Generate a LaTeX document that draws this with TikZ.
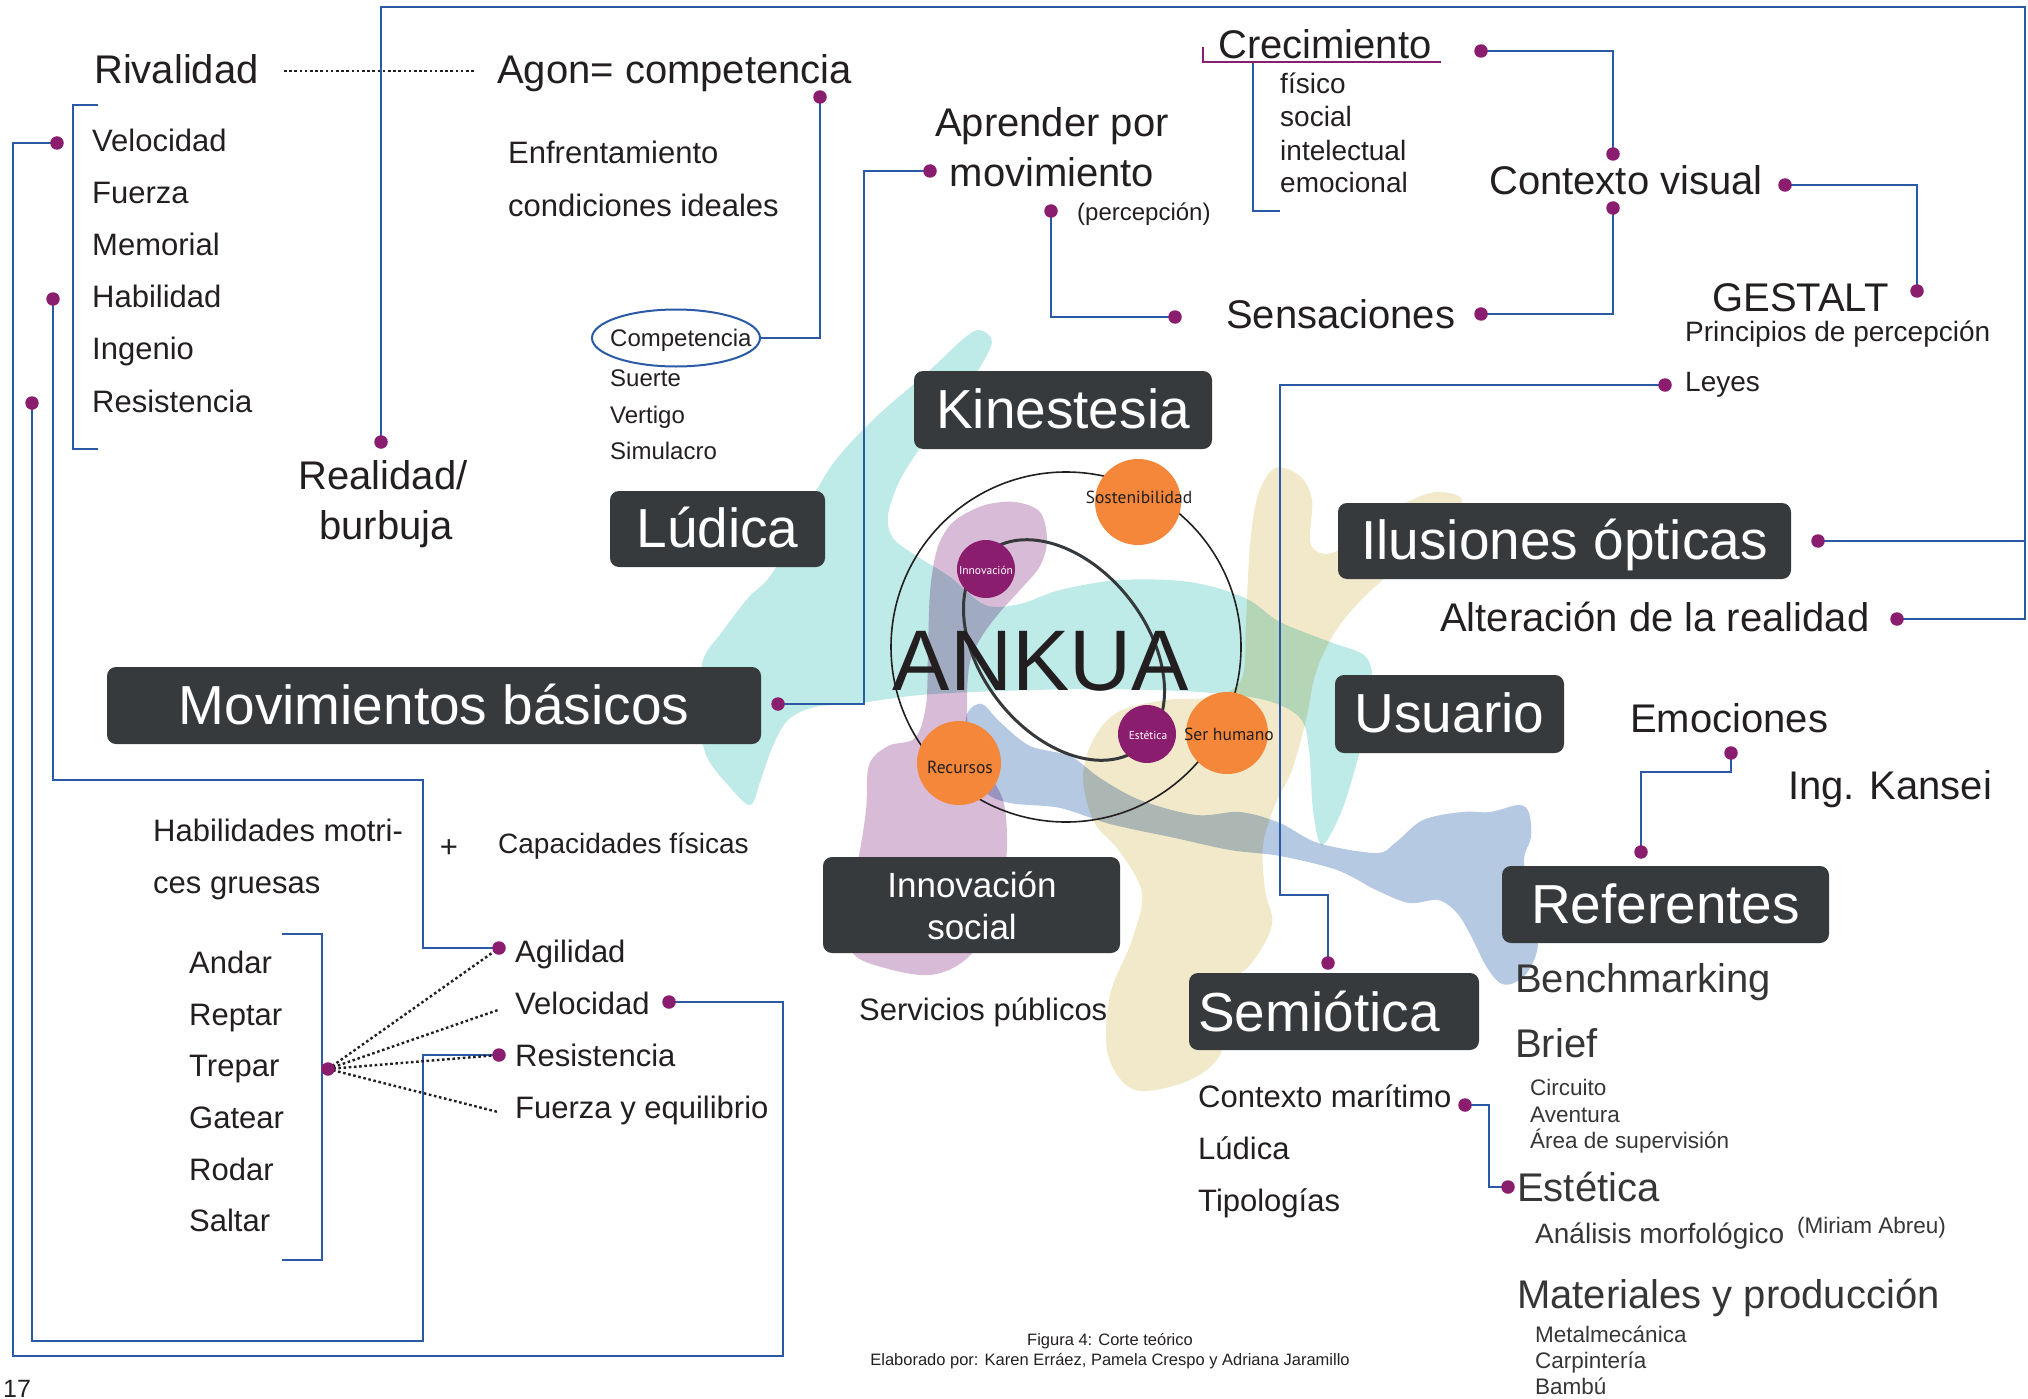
\documentclass[tikz,border=0pt]{standalone}
\usepackage{fontspec}
\setmainfont{Liberation Sans}
\newfontfamily\circfont{PT Sans}
\usetikzlibrary{shapes.geometric}

\definecolor{ink}{HTML}{231F20}
\definecolor{inksoft}{HTML}{363636}
\definecolor{boxgray}{HTML}{373A3D}
\definecolor{lineblue}{HTML}{2A59A6}
\definecolor{dotpurple}{HTML}{8B1D6F}
\definecolor{orangec}{HTML}{F4873A}
\definecolor{tealc}{HTML}{BEEAE7}
\definecolor{lilacc}{HTML}{D8BBD6}
\definecolor{bluec}{HTML}{B6C9E3}
\definecolor{beigec}{HTML}{F2E9CA}
\definecolor{ringc}{HTML}{231F20}
\definecolor{ovalc}{HTML}{36393B}

\newcommand{\txtsize}[1]{\fontsize{#1}{#1}\selectfont}

\tikzset{
  lbl/.style={anchor=base west, inner sep=0pt, text=ink},
  lblc/.style={anchor=base, inner sep=0pt, text=ink},
  big/.style={font=\txtsize{40}},
  mid/.style={font=\txtsize{31}},
  sml/.style={font=\txtsize{28}},
  tiny/.style={font=\txtsize{22.5}},
  boxn/.style={fill=boxgray, rounded corners=9pt, text=white, inner sep=0pt,
               text height=37pt, text depth=0pt, font=\txtsize{55}},
  bline/.style={draw=lineblue, line width=2pt},
  dotline/.style={draw=ink, line width=2.4pt, dash pattern=on 2.6pt off 2.6pt},
  dotn/.style={circle, fill=dotpurple, inner sep=0pt, minimum size=13.5pt},
  orb/.style={circle, fill=orangec, inner sep=0pt},
  pearl/.style={circle, fill=dotpurple, inner sep=0pt},
}

\begin{document}
\begin{tikzpicture}[x=1pt, y=-1pt]
\useasboundingbox (0,0) rectangle (2028,1399);

% ---------- translucent background blobs ----------
\begin{scope}[blend mode=multiply]
\fill[tealc] plot[smooth cycle, tension=0.55] coordinates {
 (979,330) (992,342) (975,375) (950,405) (922,445) (900,480) (888,515)
 (893,538) (915,555) (950,577) (985,605) (1020,604) (1060,590) (1120,580)
 (1190,582) (1245,598) (1280,622) (1330,642) (1366,657) (1372,690)
 (1360,750) (1342,810) (1322,845) (1313,810) (1309,750) (1300,718)
 (1265,700) (1200,692) (1100,689) (1000,691) (920,695) (860,703)
 (815,707) (788,720) (772,748) (760,782) (750,805) (728,785) (706,755)
 (698,710) (703,660) (722,632) (748,598) (771,575) (800,522) (832,465)
 (875,418) (930,370) (962,340)};
\fill[lilacc] plot[smooth cycle, tension=0.55] coordinates {
 (945,532) (958,518) (985,505) (1015,502) (1040,512) (1047,540)
 (1040,566) (1020,590) (1000,612) (982,636) (970,662) (967,700)
 (970,740) (988,772) (1003,800) (1007,835) (1005,870) (995,920)
 (965,960) (930,975) (885,968) (852,952) (845,905) (858,860)
 (866,810) (869,765) (888,746) (915,738) (926,705) (928,650)
 (930,592) (936,553)};
\fill[bluec] plot[smooth cycle, tension=0.55] coordinates {
 (968,712) (982,704) (1000,722) (1030,746) (1070,756) (1100,778)
 (1140,800) (1196,815) (1240,812) (1280,823) (1318,843) (1376,853)
 (1395,843) (1423,820) (1462,812) (1490,812) (1519,805) (1529,813)
 (1531,837) (1524,860) (1530,900) (1538,943) (1529,970) (1514,983)
 (1500,983) (1486,966) (1471,936) (1457,913) (1438,900) (1409,903)
 (1376,890) (1337,870) (1280,856) (1230,850) (1175,838) (1110,824)
 (1060,808) (1010,803) (985,792) (970,765) (965,735)};
\fill[beigec] plot[smooth cycle, tension=0.55] coordinates {
 (1275,468) (1300,476) (1312,500) (1311,545) (1335,552) (1380,517)
 (1430,493) (1460,497) (1455,513) (1415,552) (1365,596) (1335,632)
 (1316,672) (1306,720) (1292,770) (1275,805) (1263,845) (1265,890)
 (1272,925) (1250,965) (1215,995) (1222,1050) (1190,1080) (1135,1090)
 (1108,1055) (1110,995) (1132,940) (1142,893) (1120,852) (1094,822)
 (1083,778) (1093,740) (1118,712) (1165,700) (1215,697) (1242,678)
 (1246,620) (1250,545) (1258,495)};
\end{scope}

% ---------- central emblem ----------
\draw[ringc, line width=1.6pt] (1066,647) circle (175pt);
\draw[ovalc, line width=3pt, rotate around={-52:(1064,650)}]
  (1064,650) ellipse [x radius=124, y radius=83];
\node[anchor=base, inner sep=0pt, text=ink, font=\txtsize{86}] (ankua) at (1041,690) {ANKUA};

\node[orb, minimum size=86pt] (oSost) at (1138,502) {};
\node[orb, minimum size=82pt] (oSer) at (1227,733) {};
\node[orb, minimum size=84pt] (oRec) at (959,763) {};
\node[pearl, minimum size=58pt] (pInn) at (986,569) {};
\node[pearl, minimum size=58pt] (pEst) at (1147,734) {};
\node[anchor=base, inner sep=0pt, text=ink, font=\circfont\txtsize{17.5}] (tSost) at (1139,503) {Sostenibilidad};
\node[anchor=base, inner sep=0pt, text=ink, font=\circfont\txtsize{17.5}] (tSer) at (1229,740) {Ser humano};
\node[anchor=base, inner sep=0pt, text=ink, font=\circfont\txtsize{17.5}] (tRec) at (960,773) {Recursos};
\node[anchor=base, inner sep=0pt, text=white, font=\circfont\txtsize{11.5}] (tInn) at (986,574) {Innovación};
\node[anchor=base, inner sep=0pt, text=white, font=\circfont\txtsize{11.5}] (tEst) at (1148,739) {Estética};

% ---------- dark title boxes ----------
\node[boxn, minimum width=298pt, minimum height=78pt] (kin) at (1063,410) {Kinestesia};
\node[boxn, minimum width=215pt, minimum height=76pt] (lud) at (717.5,529) {Lúdica};
\node[boxn, minimum width=654pt, minimum height=77pt] (mov) at (434,705.5) {Movimientos básicos};
\node[boxn, minimum width=453pt, minimum height=76pt] (ilu) at (1564.5,541) {Ilusiones ópticas};
\node[boxn, minimum width=229pt, minimum height=78pt] (usu) at (1449.5,714) {Usuario};
\node[boxn, minimum width=327pt, minimum height=77pt] (ref) at (1665.5,904.5) {Referentes};
\node[boxn, minimum width=290pt, minimum height=77pt] (sem) at (1334,1011.5) {};
\node[anchor=base west, inner sep=0pt, text=white, font=\txtsize{55}] (semt) at (1198,1031) {Semiótica};
\node[fill=boxgray, rounded corners=9pt, inner sep=0pt, minimum width=297pt, minimum height=96pt] (inn) at (971.5,905) {};
\node[anchor=base, inner sep=0pt, text=white, font=\txtsize{35}] (innA) at (972,897) {Innovación};
\node[anchor=base, inner sep=0pt, text=white, font=\txtsize{35}] (innB) at (972,939) {social};

% ---------- connector end points ----------
\coordinate (dReal) at (381,442);
\coordinate (dAlter) at (1897,619);
\coordinate (dIlus) at (1818,541);
\coordinate (dAgon) at (820,97);
\coordinate (dMov) at (778,704);
\coordinate (dApr) at (930,171);
\coordinate (dPerc) at (1051,211);
\coordinate (dSensL) at (1175,317);
\coordinate (dCrec) at (1481,51);
\coordinate (dCtxT) at (1613,154);
\coordinate (dCtxB) at (1613,208);
\coordinate (dSensR) at (1481,314);
\coordinate (dCtxR) at (1785,185);
\coordinate (dGest) at (1917,291);
\coordinate (dLeyes) at (1665,385);
\coordinate (dSemi) at (1328,963);
\coordinate (dEmo) at (1731,753);
\coordinate (dRef) at (1641,852);
\coordinate (dMar) at (1465,1105);
\coordinate (dEst) at (1508,1187);
\coordinate (dVelL) at (57,143);
\coordinate (dHab) at (53,299);
\coordinate (dResL) at (32,403);
\coordinate (dVelR) at (669,1002);
\coordinate (dAgi) at (499,948);
\coordinate (dResR) at (499,1055);
\coordinate (dTre) at (328,1069);

% corner points
\coordinate (kTR) at (2025,7);
\coordinate (kMov) at (864,704);
\coordinate (kLeyes) at (1280,895);
\coordinate (kEmo) at (1731,772);
\coordinate (kMar) at (1489,1187);
\coordinate (kV1) at (13,1356);
\coordinate (kV2) at (783,1002);
\coordinate (kH1) at (423,780);
\coordinate (kR1) at (423,1341);
\coordinate (kF1) at (498,1010);
\coordinate (kF2) at (498,1112);
\coordinate (kRivR) at (284,71);
\coordinate (kAgonL) at (476,71);

% Competencia oval
\node[ellipse, draw=lineblue, line width=2pt, inner sep=0pt, minimum width=168pt, minimum height=57pt] (comp) at (676,338) {};

% ---------- blue connectors ----------
\draw[bline] (dReal) |- (kTR) |- (dAlter);
\draw[bline] (dIlus) -- (dIlus -| kTR);
\draw[bline] (dAgon) |- (comp.east);
\draw[bline] (dMov) -- (kMov) |- (dApr);
\draw[bline] (dPerc) |- (dSensL);
\draw[bline] (dCrec) -| (dCtxT);
\draw[bline] (dCtxB) |- (dSensR);
\draw[bline] (dCtxR) -| (dGest);
\draw[bline] (dLeyes) -| (kLeyes) -| (dSemi);
\draw[bline] (dEmo) -- (kEmo) -| (dRef);
\draw[bline] (dMar) -| (kMar) -- (dEst);
\draw[bline] (dVelL) -| (kV1) -| (kV2) -- (dVelR);
\draw[bline] (dHab) |- (kH1) |- (dAgi);
\draw[bline] (dResL) |- (kR1) |- (dResR);

% dotted links
\draw[dotline] (kRivR) -- (kAgonL);
\draw[dotline] (dTre) -- (dAgi);
\draw[dotline] (dTre) -- (kF1);
\draw[dotline] (dTre) -- (dResR);
\draw[dotline] (dTre) -- (kF2);

% brackets
\draw[bline] (98,105) -- (73,105) -- (73,449) -- (98,449);
\draw[bline] (282,934) -- (322,934) -- (322,1260) -- (282,1260);
\draw[bline] (1253,62) -- (1253,211) -- (1280,211);
\draw[draw=dotpurple, line width=1.6pt] (1203,47) -- (1203,62) -- (1441,62);

% dots
\foreach \d in {dReal,dAlter,dIlus,dAgon,dMov,dApr,dPerc,dSensL,dCrec,dCtxT,
                dCtxB,dSensR,dCtxR,dGest,dLeyes,dSemi,dEmo,dRef,dMar,dEst,
                dVelL,dHab,dResL,dVelR,dAgi,dResR,dTre}
  \node[dotn] (n\d) at (\d) {};

% ---------- texts: left column ----------
\node[lbl, big] (tRiv) at (94,84) {Rivalidad};
\node[lbl, big] (tAgon) at (497,84) {Agon= competencia};
\node[lbl, mid] (l1) at (92,152) {Velocidad};
\node[lbl, mid] (l2) at (92,204) {Fuerza};
\node[lbl, mid] (l3) at (92,255) {Memorial};
\node[lbl, mid] (l4) at (92,307) {Habilidad};
\node[lbl, mid] (l5) at (92,359) {Ingenio};
\node[lbl, mid] (l6) at (92,412) {Resistencia};
\node[lbl, mid] (tEnf) at (508,164) {Enfrentamiento};
\node[lbl, mid] (tCond) at (508,216) {condiciones ideales};
\node[lbl, font=\txtsize{24}] (tComp) at (610,346) {Competencia};
\node[lbl, font=\txtsize{24}] (tSue) at (610,386) {Suerte};
\node[lbl, font=\txtsize{24}] (tVer) at (610,423) {Vertigo};
\node[lbl, font=\txtsize{24}] (tSim) at (610,459) {Simulacro};
\node[lblc, big] (tReal) at (383,489) {Realidad/};
\node[lblc, big] (tBur) at (386,539) {burbuja};

\node[lbl, mid] (tHab1) at (153,841) {Habilidades motri-};
\node[lbl, mid] (tHab2) at (153,893) {ces gruesas};
\node[lblc, mid] (tPlus) at (449,857) {+};
\node[lbl, sml] (tCap) at (498,853) {Capacidades físicas};
\node[lbl, mid] (a1) at (189,973) {Andar};
\node[lbl, mid] (a2) at (189,1025) {Reptar};
\node[lbl, mid] (a3) at (189,1076) {Trepar};
\node[lbl, mid] (a4) at (189,1128) {Gatear};
\node[lbl, mid] (a5) at (189,1180) {Rodar};
\node[lbl, mid] (a6) at (189,1231) {Saltar};
\node[lbl, mid] (c1) at (515,962) {Agilidad};
\node[lbl, mid] (c2) at (515,1014) {Velocidad};
\node[lbl, mid] (c3) at (515,1066) {Resistencia};
\node[lbl, mid] (c4) at (515,1118) {Fuerza y equilibrio};
\node[lbl, font=\txtsize{25}] (tPage) at (3,1397) {17};

% ---------- texts: centre and top ----------
\node[lblc, big] (tApr1) at (1052,137) {Aprender por};
\node[lblc, big] (tApr2) at (1052,187) {movimiento};
\node[lbl, font=\txtsize{24}] (tPerc) at (1077,220) {(percepción)};
\node[lbl, big] (tCrec) at (1218,59) {Crecimiento};
\node[lbl, sml] (g1) at (1280,94) {físico};
\node[lbl, sml] (g2) at (1280,127) {social};
\node[lbl, sml] (g3) at (1280,161) {intelectual};
\node[lbl, sml] (g4) at (1280,193) {emocional};
\node[lbl, big] (tCtx) at (1489,195) {Contexto visual};
\node[lbl, big] (tSens) at (1226,328) {Sensaciones};
\node[lbl, big] (tGest) at (1712,311) {GESTALT};
\node[lbl, sml] (tPrin) at (1685,341) {Principios de percepción};
\node[lbl, sml] (tLey) at (1685,391) {Leyes};
\node[lbl, big] (tAlt) at (1440,631) {Alteración de la realidad};
\node[lbl, mid] (tServ) at (859,1020) {Servicios públicos};

% ---------- texts: right side ----------
\node[lbl, big] (tEmo) at (1630,732) {Emociones};
\node[lbl, big] (tKan) at (1788,799) {Ing. Kansei};
\node[lbl, big, text=inksoft] (tBen) at (1515,992) {Benchmarking};
\node[lbl, big, text=inksoft] (tBrief) at (1515,1057) {Brief};
\node[lbl, tiny, text=inksoft] (b1) at (1530,1095) {Circuito};
\node[lbl, tiny, text=inksoft] (b2) at (1530,1122) {Aventura};
\node[lbl, tiny, text=inksoft] (b3) at (1530,1148) {Área de supervisión};
\node[lbl, big, text=inksoft] (tEst) at (1517,1201) {Estética};
\node[lbl, sml, text=inksoft] (tAna) at (1535,1243) {Análisis morfológico};
\node[lbl, tiny, text=inksoft] (tMir) at (1797,1233) {(Miriam Abreu)};
\node[lbl, big, text=inksoft] (tMat) at (1517,1308) {Materiales y producción};
\node[lbl, tiny, text=inksoft] (m1) at (1535,1342) {Metalmecánica};
\node[lbl, tiny, text=inksoft] (m2) at (1535,1368) {Carpintería};
\node[lbl, tiny, text=inksoft] (m3) at (1535,1394) {Bambú};
\node[lbl, mid] (s1) at (1198,1107) {Contexto marítimo};
\node[lbl, mid] (s2) at (1198,1159) {Lúdica};
\node[lbl, mid] (s3) at (1198,1211) {Tipologías};

% ---------- caption ----------
\node[lblc, font=\txtsize{16.5}] (cap1) at (1110,1345) {Figura 4: Corte teórico};
\node[lblc, font=\txtsize{16.5}] (cap2) at (1110,1365) {Elaborado por: Karen Erráez, Pamela Crespo y Adriana Jaramillo};
\end{tikzpicture}
\end{document}
